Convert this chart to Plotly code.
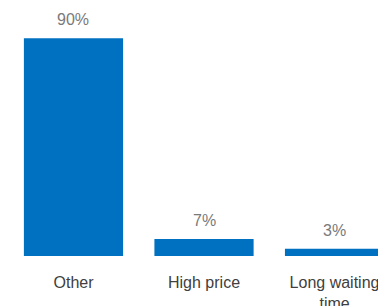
import plotly.graph_objects as go

categories = ["Other", "High price", "Long waiting<br>time"]
values = [90, 7, 3]
value_labels = ["90%", "7%", "3%"]

BAR = "#0070C0"

fig = go.Figure()
fig.add_trace(go.Bar(
    x=categories, y=values,
    marker=dict(color=BAR, line=dict(width=0)),
    width=0.76,
    text=value_labels, textposition="none",
    hoverinfo="skip",
))

for c, v, t in zip(categories, values, value_labels):
    fig.add_annotation(x=c, y=v, text=t, showarrow=False,
                       yanchor="bottom", yshift=8,
                       font=dict(family="Liberation Sans, Arial", size=16, color="#7a7a7a"))

fig.update_layout(
    width=378, height=306,
    margin=dict(l=0, r=0, t=0, b=50, autoexpand=False),
    paper_bgcolor="white", plot_bgcolor="white",
    showlegend=False,
    font=dict(family="Liberation Sans, Arial", size=16, color="#404040"),
    xaxis=dict(range=[-0.563, 2.333], showgrid=False, zeroline=False, showline=False,
               automargin=False,
               ticks="outside", ticklen=12, tickcolor="rgba(0,0,0,0)",
               tickfont=dict(size=16, color="#404040")),
    yaxis=dict(range=[0, 105.8], visible=False, automargin=False),
)

fig.write_html(
    "out.html",
    config={"displayModeBar": False, "staticPlot": True},
    post_script="document.body.style.margin='0';document.body.style.overflow='hidden';",
)
